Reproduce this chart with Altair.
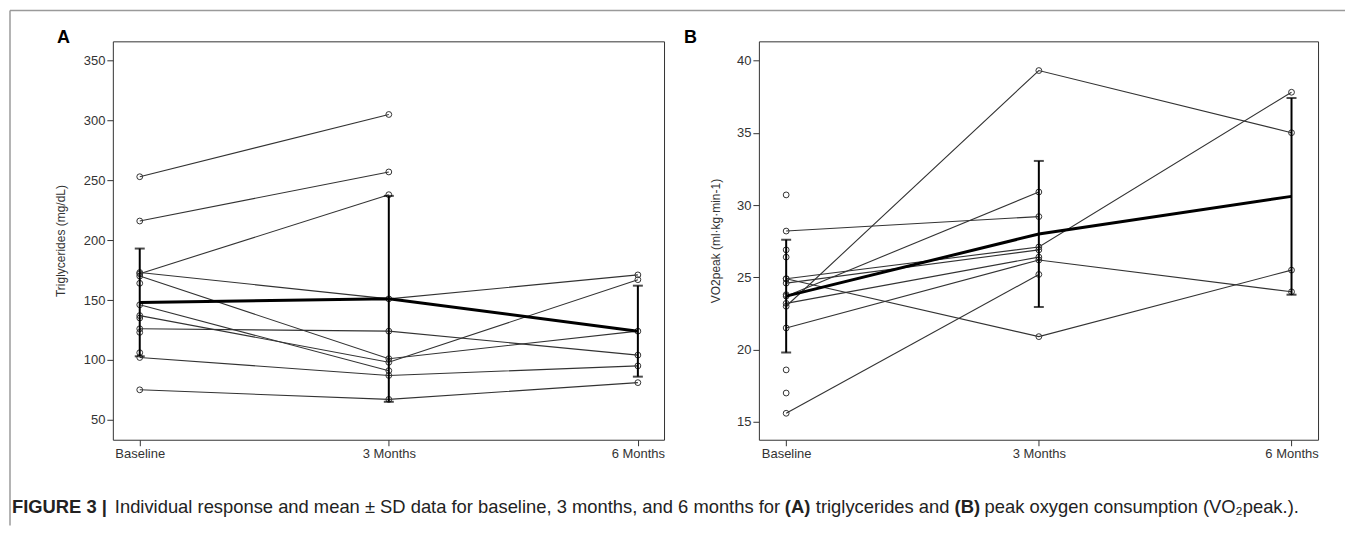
import altair as alt
import pandas as pd

TIME_LABELS = ["Baseline", "3 Months", "6 Months"]

# Panel A - triglycerides (mg/dL); one entry per participant, None = not measured
tg_base = [253, 216, 172, 173, 170, 146, 137, 126, 102, 75, 164, 135, 123, 106]
tg_3mo = [305, 257, 238, 151, 101, 91, 98, 124, 87, 67, None, None, None, None]
tg_6mo = [None, None, None, 171, 124, None, 167, 104, 95, 81, None, None, None, None]
tg_mean = [148, 151, 124]
tg_sd = [45, 86, 38]
tg_ticks = [50, 100, 150, 200, 250, 300, 350]

# Panel B - VO2peak (ml/kg/min)
vo_base = [23.0, 23.7, 28.2, 24.9, 15.6, 24.9, 24.6, 23.2, 21.5, 30.7, 26.9, 26.4, 23.8, 18.6, 17.0]
vo_3mo = [39.3, 30.9, 29.2, 20.9, 25.2, 27.1, 26.9, 26.4, 26.2, None, None, None, None, None, None]
vo_6mo = [35.0, None, None, 25.5, None, 37.8, None, None, 24.0, None, None, None, None, None, None]
vo_mean = [23.7, 28.0, 30.6]
vo_sd = [3.9, 5.05, 6.8]
vo_ticks = [15, 20, 25, 30, 35, 40]

FONT = "Liberation Sans"
INK = "#333333"


def long_df(base, m3, m6):
    rows = []
    for i, vals in enumerate(zip(base, m3, m6)):
        for t, v in enumerate(vals):
            if v is not None:
                rows.append({"subject": i, "time": t, "value": v})
    return pd.DataFrame(rows)


def mean_df(means, sds):
    return pd.DataFrame({
        "time": [0, 1, 2],
        "value": means,
        "lo": [m - s for m, s in zip(means, sds)],
        "hi": [m + s for m, s in zip(means, sds)],
    })


label_expr = "[" + ",".join("'%s'" % t for t in TIME_LABELS) + "][datum.value]"
one = pd.DataFrame({"a": [0]})


def panel(df, mdf, ydomain, yticks, ytitle, letter, letter_dx, width, height, title_pad, extra=()):
    xs = alt.Scale(domain=[-0.108, 2.105], nice=False, zero=False)
    xa = alt.Axis(values=[0, 1, 2], labelExpr=label_expr, title=None)
    ys = alt.Scale(domain=ydomain, nice=False, zero=False)
    ya = alt.Axis(values=yticks, title=ytitle, titlePadding=title_pad)

    def X():
        return alt.X("time:Q", scale=xs, axis=xa)

    def Y(field):
        return alt.Y(field, scale=ys, axis=ya, title=ytitle)

    lines = alt.Chart(df).mark_line(color=INK, strokeWidth=1.1).encode(
        x=X(), y=Y("value:Q"), detail="subject:N")
    pts = alt.Chart(df).mark_point(shape="circle", filled=False, size=34,
                                   color=INK, strokeWidth=1, opacity=1).encode(
        x=X(), y=Y("value:Q"))
    mline = alt.Chart(mdf).mark_line(color="black", strokeWidth=3).encode(
        x=X(), y=Y("value:Q"))
    err = alt.Chart(mdf).mark_rule(color="black", strokeWidth=2).encode(
        x=X(), y=Y("lo:Q"), y2="hi:Q")
    cap_lo = alt.Chart(mdf).mark_tick(color="black", orient="horizontal", size=10,
                                      thickness=2).encode(x=X(), y=Y("lo:Q"))
    cap_hi = alt.Chart(mdf).mark_tick(color="black", orient="horizontal", size=10,
                                      thickness=2).encode(x=X(), y=Y("hi:Q"))
    lab = alt.Chart(pd.DataFrame({"t": [letter]})).mark_text(
        fontSize=18, fontWeight="bold", font=FONT, align="left", baseline="middle",
        color="black").encode(text="t:N", x=alt.value(letter_dx), y=alt.value(-3))
    return alt.layer(lines, pts, mline, err, cap_lo, cap_hi, lab, *extra).properties(
        width=width, height=height)


# caption and figure frame, placed relative to panel A's plot area (page x-111, y-39)
cap_segments = [
    ("FIGURE 3 |", "bold", -101),
    ("Individual response and mean \u00b1 SD data for baseline, 3 months, and 6 months for", "normal", 2),
    ("(A)", "bold", 673),
    ("triglycerides and", "normal", 704),
    ("(B)", "bold", 843),
    ("peak oxygen consumption (VO\u2082peak.).", "normal", 873),
]
extras = []
extras.append(alt.Chart(one).mark_rule(color="#9a9a9a", strokeWidth=1.5).encode(
    x=alt.value(-103), x2=alt.value(1234), y=alt.value(-31)))
extras.append(alt.Chart(one).mark_rule(color="#9a9a9a", strokeWidth=1.5).encode(
    x=alt.value(-103), y=alt.value(-31), y2=alt.value(485)))
for txt, wt, xx in cap_segments:
    extras.append(
        alt.Chart(one).mark_text(text=txt, fontWeight=wt, font=FONT, fontSize=18.4,
                                 align="left", baseline="middle", color="#222222")
        .encode(x=alt.value(xx), y=alt.value(466)))

A = panel(long_df(tg_base, tg_3mo, tg_6mo), mean_df(tg_mean, tg_sd),
          [33.3, 366.1], tg_ticks, "Triglycerides (mg/dL)", "A", -56, 552, 399, 16, extras)
B = panel(long_df(vo_base, vo_3mo, vo_6mo), mean_df(vo_mean, vo_sd),
          [13.77, 41.32], vo_ticks, "VO2peak (ml\u00b7kg\u00b7min-1)", "B", -75, 560, 399, 14)

chart = alt.hconcat(A, B, spacing=95, bounds="flush").properties(
    padding=0
).configure_view(stroke="#333333", strokeWidth=1).configure_axis(
    domain=False, grid=False, tickColor="#333333", tickSize=6, tickWidth=1,
    labelFont=FONT, labelFontSize=13, labelColor="#333333", labelPadding=2,
    titleFont=FONT, titleFontSize=12, titleFontWeight="normal", titleColor="#333333"
)

chart.save("out.html", embed_options={"renderer": "svg", "actions": False})
